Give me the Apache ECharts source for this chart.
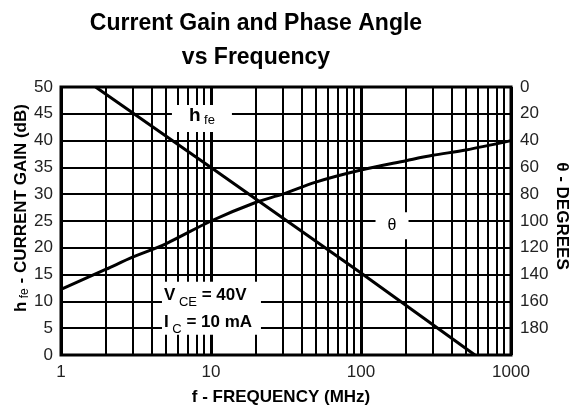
<!DOCTYPE html>
<html>
<head>
<meta charset="utf-8">
<script src="https://cdn.jsdelivr.net/npm/echarts@6/dist/echarts.min.js"></script>
<style>
  html, body { margin: 0; padding: 0; background: #fff; }
  #echart { width: 573px; height: 410px; }
</style>
</head>
<body>
<div id="echart"></div>
<script>
// frequency in MHz
var hfeFreq = [1.7, 10, 100, 575];
var hfeGain = [50, 35, 15.3, 0];
var thetaFreq = [1, 2, 3, 5, 10, 20, 30, 50, 100, 200, 300, 500, 1000];
var thetaDeg = [151, 136, 127, 117, 100, 86, 80, 71, 62, 55, 51, 47, 40];
// minor log grid lines
var minorFreq = [2, 3, 4, 5, 6, 7, 8, 9, 20, 30, 40, 50, 60, 70, 80, 90, 200, 300, 400, 500, 600, 700, 800, 900];
var gainRange = [0, 50, 5];
var degRange = [0, 200, 20];

var font = "'Liberation Sans', Arial, sans-serif";

function pairs(xs, ys) {
  return xs.map(function (x, i) { return [x, ys[i]]; });
}

var myChart = echarts.init(document.getElementById("echart"));

var option = {
  animation: false,
  title: {
    text: "Current Gain and Phase Angle\nvs Frequency",
    left: 251,
    top: 2,
    textAlign: "center",
    textStyle: {
      color: "#000",
      fontFamily: font,
      fontWeight: "bold",
      fontSize: 23,
      lineHeight: 34
    }
  },
  grid: {
    left: 61,
    right: 62,
    top: 87,
    bottom: 55,
    show: true,
    borderColor: "#000",
    borderWidth: 3
  },
  xAxis: {
    type: "log",
    logBase: 10,
    min: 1,
    max: 1000,
    axisLine: { show: false },
    axisTick: { show: false },
    axisLabel: {
      color: "#222", fontFamily: font, fontSize: 17, margin: 9,
      formatter: function (v) { return String(v); }
    },
    splitLine: { show: true, lineStyle: { color: "#000", width: 3 } }
  },
  yAxis: [
    {
      type: "value",
      min: gainRange[0],
      max: gainRange[1],
      interval: gainRange[2],
      axisLine: { show: false },
      axisTick: { show: false },
      axisLabel: { color: "#222", fontFamily: font, fontSize: 17, margin: 8 },
      splitLine: { show: true, lineStyle: { color: "#000", width: 2 } }
    },
    {
      type: "value",
      position: "right",
      inverse: true,
      min: degRange[0],
      max: degRange[1],
      interval: degRange[2],
      axisLine: { show: false },
      axisTick: { show: false },
      splitLine: { show: false },
      axisLabel: {
        color: "#222", fontFamily: font, fontSize: 17, margin: 9,
        formatter: function (v) { return v === 200 ? "" : v; }
      }
    }
  ],
  graphic: [
    {
      type: "text",
      x: 21, y: 208,
      rotation: Math.PI / 2,
      style: {
        text: "{b|h}{s| fe}{b| - CURRENT GAIN (dB)}",
        align: "center",
        verticalAlign: "middle",
        rich: {
          b: { fontFamily: font, fontWeight: "bold", fontSize: 17, fill: "#000", lineHeight: 20 },
          s: { fontFamily: font, fontSize: 12, fill: "#000", lineHeight: 12, verticalAlign: "bottom" }
        }
      }
    },
    {
      type: "text",
      x: 562, y: 216,
      rotation: -Math.PI / 2,
      style: {
        text: "\u03b8 - DEGREES",
        align: "center",
        verticalAlign: "middle",
        font: "bold 17px " + font,
        fill: "#000"
      }
    },
    {
      type: "text",
      x: 281, y: 397,
      style: {
        text: "f - FREQUENCY (MHz)",
        align: "center",
        verticalAlign: "middle",
        font: "bold 17px " + font,
        fill: "#000"
      }
    }
  ],
  series: [
    {
      // minor vertical grid lines
      type: "line",
      data: [],
      z: 1,
      markLine: {
        silent: true,
        symbol: ["none", "none"],
        label: { show: false },
        lineStyle: { color: "#000", width: 2, type: "solid" },
        data: minorFreq.map(function (f) { return { xAxis: f }; })
      }
    },
    {
      name: "hfe",
      type: "line",
      yAxisIndex: 0,
      z: 3,
      symbol: "none",
      lineStyle: { color: "#000", width: 3 },
      data: pairs(hfeFreq, hfeGain)
    },
    {
      name: "theta",
      type: "line",
      yAxisIndex: 1,
      z: 3,
      symbol: "none",
      smooth: 0.3,
      lineStyle: { color: "#000", width: 3 },
      data: pairs(thetaFreq, thetaDeg)
    },
    {
      // annotation boxes
      type: "scatter",
      data: [],
      z: 5,
      markPoint: {
        silent: true,
        symbol: "rect",
        symbolSize: 0,
        data: [
          {
            coord: [8.7, 44.1],
            label: {
              show: true, position: "inside",
              formatter: "{h|h}{s| fe}",
              backgroundColor: "#fff",
              width: 60, height: 27,
              align: "center", verticalAlign: "middle",
              rich: {
                h: { fontFamily: font, fontWeight: "bold", fontSize: 19, color: "#000", lineHeight: 22 },
                s: { fontFamily: font, fontSize: 13, color: "#000", lineHeight: 12, verticalAlign: "bottom" }
              }
            }
          },
          {
            coord: [161, 24.1],
            label: {
              show: true, position: "inside",
              formatter: "\u03b8",
              backgroundColor: "#fff",
              width: 33, height: 27,
              align: "center", verticalAlign: "middle",
              color: "#000", fontFamily: font, fontSize: 16
            }
          },
          {
            coord: [4.71, 8.7],
            label: {
              show: true, position: "inside",
              formatter: "{m|V}{s| CE}{m| = 40V}\n{m|I}{s| C}{m| = 10 mA}",
              backgroundColor: "#fff",
              width: 97, height: 53,
              padding: [0, 0, 0, 2],
              align: "left", verticalAlign: "middle",
              rich: {
                m: { fontFamily: font, fontWeight: "bold", fontSize: 17, color: "#000", lineHeight: 27 },
                s: { fontFamily: font, fontSize: 13, color: "#000", lineHeight: 14, verticalAlign: "bottom" }
              }
            }
          }
        ]
      }
    }
  ]
};

myChart.setOption(option);
</script>
</body>
</html>
